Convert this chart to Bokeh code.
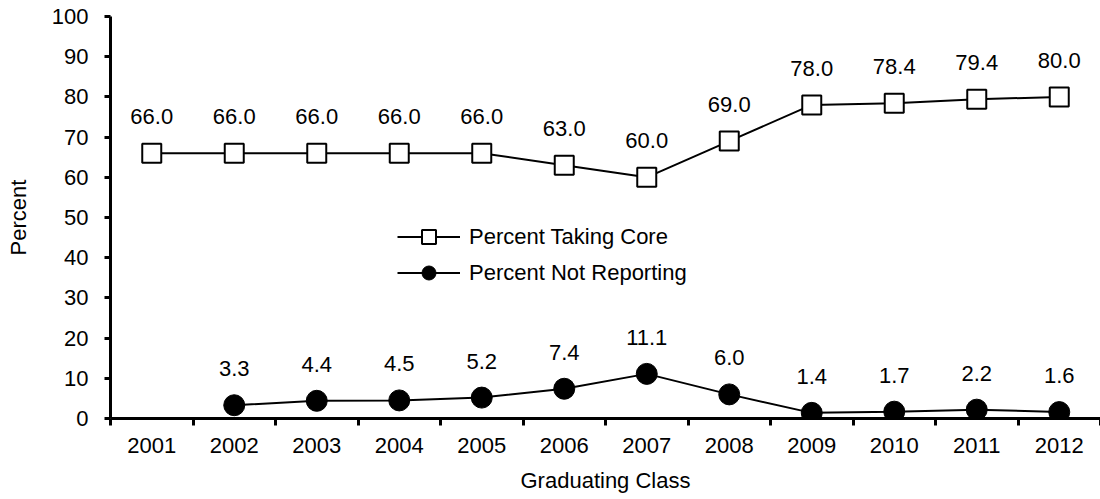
from bokeh.plotting import figure
from bokeh.models import (ColumnDataSource, Range1d, FixedTicker, Legend, LegendItem, LabelSet)
from bokeh.core.properties import value
from bokeh.embed import file_html
from bokeh.resources import INLINE

years = [2001, 2002, 2003, 2004, 2005, 2006, 2007, 2008, 2009, 2010, 2011, 2012]
year_labels = [str(y) for y in years]
taking_core = [66.0, 66.0, 66.0, 66.0, 66.0, 63.0, 60.0, 69.0, 78.0, 78.4, 79.4, 80.0]
not_reporting = [None, 3.3, 4.4, 4.5, 5.2, 7.4, 11.1, 6.0, 1.4, 1.7, 2.2, 1.6]
y_ticks = list(range(0, 101, 10))

FONT = "Liberation Sans"
FS = "22px"

p = figure(width=1100, height=499, output_backend="svg", toolbar_location=None,
           x_range=Range1d(years[0] - 0.5, years[-1] + 0.5), y_range=Range1d(0, 100),
           min_border_left=110, min_border_right=0, min_border_top=16, min_border_bottom=81)
p.outline_line_color = None
p.grid.visible = False
p.background_fill_color = "white"
p.border_fill_color = "white"

def src(vals):
    xs = [y for y, v in zip(years, vals) if v is not None]
    ys = [v for v in vals if v is not None]
    return ColumnDataSource(dict(x=xs, y=ys, lab=[f"{v:.1f}" for v in ys]))

s_core = src(taking_core)
s_nr = src(not_reporting)

l1 = p.line("x", "y", source=s_core, line_color="black", line_width=2)
m1 = p.scatter("x", "y", source=s_core, marker="square", size=19,
               fill_color="white", line_color="black", line_width=2)
l2 = p.line("x", "y", source=s_nr, line_color="black", line_width=2)
m2 = p.scatter("x", "y", source=s_nr, marker="circle", size=21,
               fill_color="black", line_color="black", line_width=1)

for s in (s_core, s_nr):
    p.add_layout(LabelSet(x="x", y="y", text="lab", source=s, y_offset=29,
                          text_align="center", text_baseline="alphabetic",
                          text_font=value(FONT), text_font_size=FS, text_color="black"))

# x axis
xa = p.xaxis[0]
xa.ticker = FixedTicker(ticks=years, minor_ticks=[y - 0.5 for y in years] + [years[-1] + 0.5])
xa.major_label_overrides = {y: l for y, l in zip(years, year_labels)}
xa.major_tick_out = 0
xa.major_tick_in = 0
xa.minor_tick_out = 7
xa.minor_tick_in = 0
xa.minor_tick_line_width = 3
xa.axis_line_width = 3
xa.major_label_standoff = 12
xa.axis_label = "Graduating Class"
xa.axis_label_standoff = 12
xa.axis_label_text_font_style = "normal"

ya = p.yaxis[0]
ya.ticker = FixedTicker(ticks=y_ticks, minor_ticks=[])
ya.major_tick_out = 6
ya.major_tick_in = 0
ya.major_tick_line_width = 3
ya.axis_line_width = 3
ya.major_label_standoff = 16
ya.axis_label = "Percent"
ya.axis_label_standoff = 18
ya.axis_label_text_font_style = "normal"

for ax in (xa, ya):
    ax.major_label_text_font = FONT
    ax.major_label_text_font_size = FS
    ax.major_label_text_color = "black"
    ax.axis_label_text_font = FONT
    ax.axis_label_text_font_size = FS
    ax.axis_label_text_color = "black"
    ax.axis_line_color = "black"
    ax.major_tick_line_color = "black"
    ax.minor_tick_line_color = "black"

legend = Legend(items=[LegendItem(label="Percent Taking Core", renderers=[l1, m1]),
                       LegendItem(label="Percent Not Reporting", renderers=[l2, m2])],
                location=(287, 128), padding=0, margin=0, spacing=1,
                glyph_width=63, glyph_height=35, label_height=35, label_standoff=9,
                border_line_color=None, background_fill_alpha=0,
                label_text_font=FONT, label_text_font_size=FS, label_text_color="black")
p.add_layout(legend, "center")

open("out.html", "w").write(file_html(p, INLINE))
